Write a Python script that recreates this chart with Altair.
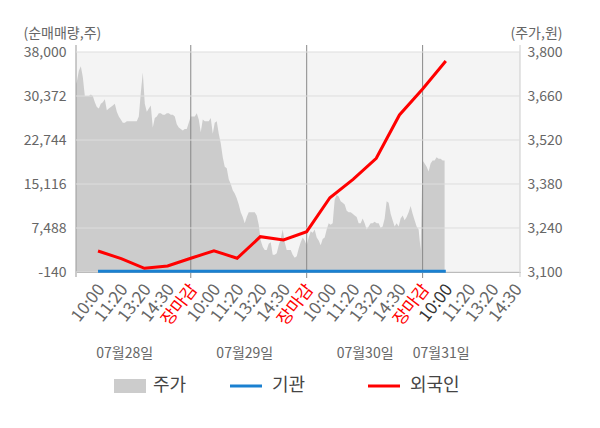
import json
import altair as alt
import pandas as pd

# ---------------- data ----------------
slot_labels = ["10:00", "11:20", "13:20", "14:30", "장마감",
               "10:00", "11:20", "13:20", "14:30", "장마감",
               "10:00", "11:20", "13:20", "14:30", "장마감",
               "10:00", "11:20", "13:20", "14:30"]
date_labels = ["07월28일", "07월29일", "07월30일", "07월31일"]
date_pos = [2.15, 7.33, 12.52, 15.8]
day_bounds = [5, 10, 15]

left_ticks = [-140, 7488, 15116, 22744, 30372, 38000]
right_ticks = [3100, 3240, 3380, 3520, 3660, 3800]

# stock price (주가), sampled evenly through each trading day
price_d1 = [3690, 3705, 3740, 3755, 3720, 3660, 3660, 3660, 3665, 3660,
            3640, 3625, 3620, 3635, 3640, 3650, 3615, 3620, 3625, 3630,
            3635, 3610, 3595, 3585, 3575, 3575, 3580, 3580, 3580, 3580,
            3580, 3580, 3595, 3670, 3735, 3635, 3610, 3620, 3630, 3560,
            3590, 3595, 3605, 3605, 3600, 3600, 3605, 3605, 3600, 3600,
            3595, 3570, 3560, 3555, 3550, 3555, 3555, 3575]
price_d2 = [3595, 3595, 3595, 3605, 3585, 3545, 3585, 3580, 3580, 3580,
            3590, 3540, 3575, 3580, 3540, 3510, 3465, 3435, 3430, 3395,
            3380, 3360, 3350, 3335, 3315, 3290, 3275, 3255, 3275, 3290,
            3290, 3290, 3290, 3280, 3250, 3200, 3180, 3170, 3170, 3190,
            3195, 3155, 3155, 3160, 3185, 3205, 3235, 3195, 3170, 3170,
            3170, 3155, 3145, 3150, 3175, 3195, 3210, 3200]
price_d3 = [3185, 3210, 3230, 3225, 3235, 3210, 3200, 3185, 3205, 3210,
            3235, 3255, 3250, 3255, 3330, 3345, 3340, 3325, 3320, 3315,
            3295, 3290, 3290, 3285, 3280, 3275, 3255, 3255, 3270, 3255,
            3235, 3245, 3255, 3255, 3260, 3255, 3255, 3240, 3245, 3270,
            3325, 3320, 3285, 3265, 3245, 3255, 3245, 3270, 3280, 3265,
            3275, 3290, 3310, 3285, 3265, 3245, 3235, 3170]
price_d4 = [3455, 3445, 3435, 3420, 3445, 3455, 3455, 3465, 3460, 3460,
            3455, 3455]
samples_per_day = 58

# net buying (순매매량) at each label slot 1..16
foreign = [3500, 2170, 500, 900, 2240, 3550, 2240, 5980, 5410, 6850,
           12740, 15930, 19570, 27080, 31590, 36440]
inst = [0, 0, 0, 0, 0, 0, 0, 0, 0, 0, 0, 0, 0, 0, 0, 0]

# ---------------- tables ----------------
rows = []
for d, arr in enumerate([price_d1, price_d2, price_d3, price_d4]):
    for j, v in enumerate(arr):
        rows.append({"u": 5 * d + j * 5 / samples_per_day, "v": v})
price_df = pd.DataFrame(rows)

line_rows = []
for i, (f, b) in enumerate(zip(foreign, inst)):
    line_rows.append({"u": i + 1, "v": b, "s": "기관"})
    line_rows.append({"u": i + 1, "v": f, "s": "외국인"})
line_df = pd.DataFrame(line_rows)

grid_df = pd.DataFrame({"v": left_ticks})
bound_df = pd.DataFrame({"u": day_bounds})
date_df = pd.DataFrame({"u": date_pos, "t": date_labels})
one = pd.DataFrame({"a": [0]})

# ---------------- chart ----------------
W, H = 444, 220
FONT = "Noto Sans CJK KR"

xscale = alt.Scale(domain=[0.05, 19.2], nice=False, zero=False)
xaxis = alt.Axis(
    values=list(range(1, 20)),
    labelExpr=json.dumps(slot_labels, ensure_ascii=False) + "[datum.value - 1]",
    labelAngle=308, labelFontSize=17, labelAlign="right", labelBaseline="middle",
    labelPadding=14, labelOffset=3,
    labelColor={"condition": [{"test": "datum.value % 5 == 0", "value": "#ff0000"},
                              {"test": "datum.value == 16", "value": "#333333"}],
                "value": "#666666"},
    ticks=False, tickSize=0, grid=False, domain=True, domainColor="#999999",
    title=None, labelOverlap=False, labelFlush=False, labelBound=False,
)
X = alt.X("u:Q", scale=xscale, axis=xaxis)

lscale = alt.Scale(domain=[-140, 38000], nice=False, zero=False)
laxis = alt.Axis(
    orient="left", values=left_ticks, format=",.0f",
    labelExpr="replace(datum.label, '\u2212', '-')", labelFontSize=14,
    labelColor="#666666", labelPadding=10, ticks=False, domain=False, grid=False,
    title="(순매매량,주)", titleAngle=0, titleAlign="left", titleBaseline="alphabetic",
    titleX=-53, titleY=-15, titleFontSize=14, titleFontWeight="normal",
    titleColor="#666666",
)
rscale = alt.Scale(domain=[3100, 3800], nice=False, zero=False)
raxis = alt.Axis(
    orient="right", values=right_ticks, format=",.0f", labelFontSize=14,
    labelColor="#666666", labelPadding=7, ticks=False, domain=False, grid=False,
    title="(주가,원)", titleAngle=0, titleAlign="left", titleBaseline="alphabetic",
    titleX=-10, titleY=-15, titleFontSize=14, titleFontWeight="normal",
    titleColor="#666666",
)

area = alt.Chart(price_df).mark_area(color="#cccccc", clip=True).encode(
    x=X, y=alt.Y("v:Q", scale=rscale, axis=raxis), y2=alt.datum(3100)
)

grid = alt.Chart(grid_df).mark_rule(color="#dddddd", strokeWidth=1).encode(
    y=alt.Y("v:Q", scale=lscale, axis=laxis), x=alt.value(0), x2=alt.value(W)
)
lines = alt.Chart(line_df).mark_line(strokeWidth=3).encode(
    x=X,
    y=alt.Y("v:Q", scale=lscale, axis=laxis),
    color=alt.Color("s:N", scale=alt.Scale(domain=["기관", "외국인"],
                                           range=["#1a80d0", "#ff0000"]), legend=None),
    order=alt.Order("u:Q"),
)
left_layers = alt.layer(grid, lines)

day_rules = alt.Chart(bound_df).mark_rule(color="#888888", strokeWidth=1).encode(
    x=X, y=alt.value(-7), y2=alt.value(H + 6)
)
left_edge = alt.Chart(one).mark_rule(color="#999999", strokeWidth=1).encode(
    x=alt.value(0), y=alt.value(-7), y2=alt.value(H + 5)
)
right_edge = alt.Chart(one).mark_rule(color="#cccccc", strokeWidth=1).encode(
    x=alt.value(W), y=alt.value(-7), y2=alt.value(H + 5)
)

dates = alt.Chart(date_df).mark_text(
    fontSize=14, color="#666666", baseline="middle", font=FONT
).encode(x=X, y=alt.value(302), text="t:N")

# legend
leg_y = 334
leg_area = alt.Chart(one).mark_rect(color="#cccccc").encode(
    x=alt.value(38), x2=alt.value(70), y=alt.value(leg_y - 7), y2=alt.value(leg_y + 7)
)
leg_blue = alt.Chart(one).mark_rule(color="#1a80d0", strokeWidth=3).encode(
    x=alt.value(154), x2=alt.value(186), y=alt.value(leg_y)
)
leg_red = alt.Chart(one).mark_rule(color="#ff0000", strokeWidth=3).encode(
    x=alt.value(292), x2=alt.value(324), y=alt.value(leg_y)
)
def leg_text(txt, xpos):
    return alt.Chart(one).mark_text(
        text=txt, fontSize=18, color="#444444", align="left", baseline="middle", font=FONT
    ).encode(x=alt.value(xpos), y=alt.value(leg_y))

chart = alt.layer(
    area, day_rules, left_edge, right_edge, left_layers, dates,
    leg_area, leg_blue, leg_red,
    leg_text("주가", 77), leg_text("기관", 196), leg_text("외국인", 334),
).resolve_scale(y="independent").properties(
    width=W, height=H,
    padding={"left": 68, "top": 44, "right": 72, "bottom": 148},
    autosize=alt.AutoSizeParams(type="none"),
).configure(font=FONT).configure_view(fill="#f4f4f4", strokeWidth=0)

chart.save("out.html", embed_options={"renderer": "svg", "actions": False})
